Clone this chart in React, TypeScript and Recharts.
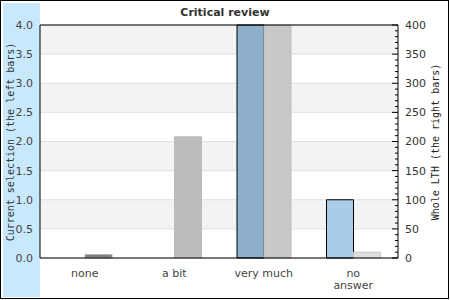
import { BarChart, Bar, XAxis, YAxis, CartesianGrid, Cell, ReferenceLine } from "recharts";

const categories = ["none", "a bit", "very much", "no\nanswer"];
const currentSelection = [0, 0, 4, 1];
const wholeLth = [6, 208, 400, 10];

const leftTicks = [0, 0.5, 1, 1.5, 2, 2.5, 3, 3.5, 4];
const rightMajorTicks = [0, 50, 100, 150, 200, 250, 300, 350, 400];
const rightTicks = Array.from({ length: 41 }, (_, i) => i * 10);

const currentColors = ["#8eb0cc", "#8eb0cc", "#8eb0cc", "#a9cce9"];
const wholeColors = ["#808080", "#bbbbbb", "#c8c8c8", "#dddddd"];
const wholeStrokes = ["#b4b4b4", "#bbbbbb", "#bcbcbc", "#c6c6c6"];

const data = categories.map((name, i) => ({
  name,
  current: currentSelection[i],
  whole: wholeLth[i],
}));

const FONT = "'DejaVu Sans', Verdana, sans-serif";
const MONO = "'DejaVu Sans Mono', monospace";

const CategoryTick = ({ x, y, payload }: any) => {
  const lines = String(payload.value).split("\n");
  return (
    <text x={x} y={y + 19} textAnchor="middle" fontSize={11} fontFamily={FONT} fill="#444">
      {lines.map((l, i) => (
        <tspan key={i} x={x} dy={i === 0 ? 0 : 12}>
          {l}
        </tspan>
      ))}
    </text>
  );
};

const RightTick = ({ x, y, payload }: any) => {
  const major = rightMajorTicks.includes(payload.value);
  return (
    <g>
      <line x1={x - (major ? 6 : 3)} x2={x} y1={y} y2={y} stroke="#000" />
      {major && (
        <text x={x + 7} y={y} dy="0.355em" fontSize={11} fontFamily={FONT} fill="#333">
          {payload.value}
        </text>
      )}
    </g>
  );
};

export default function App() {
  return (
    <div style={{ position: "absolute", left: 0, top: 0, width: 450, height: 300 }}>
      <div
        style={{
          position: "absolute",
          left: 0,
          top: 0,
          width: 449,
          height: 299,
          boxSizing: "border-box",
          border: "1px solid #000",
          background: "#fff",
        }}
      />
      <div style={{ position: "absolute", left: 3, top: 3, width: 37, height: 294, background: "#c8e8fc" }} />
      <div style={{ position: "absolute", left: 0, top: 0 }}>
        <BarChart
          width={450}
          height={300}
          data={data}
          margin={{ top: 25, right: 0, bottom: 0, left: 0 }}
          barGap={0}
          barSize={27}
        >
          <CartesianGrid
            yAxisId="left"
            vertical={false}
            stroke="#e0e0e0"
            horizontalFill={["#f3f3f3", "#ffffff"]}
          />
          <XAxis
            dataKey="name"
            height={42}
            axisLine={{ stroke: "#000" }}
            tickLine={false}
            tickSize={0}
            tickMargin={0}
            interval={0}
            tick={<CategoryTick />}
          />
          <YAxis
            yAxisId="left"
            width={40}
            domain={[0, 4]}
            ticks={leftTicks}
            interval={0}
            tickFormatter={(v: number) => v.toFixed(1)}
            axisLine={{ stroke: "#000" }}
            tickLine={false}
            tickSize={5}
            tickMargin={2}
            tick={{ fontSize: 11, fontFamily: FONT, fill: "#444" }}
          />
          <YAxis
            yAxisId="right"
            orientation="right"
            width={52}
            domain={[0, 400]}
            ticks={rightTicks}
            interval={0}
            axisLine={{ stroke: "#000" }}
            tickLine={false}
            tickSize={0}
            tickMargin={0}
            tick={<RightTick />}
          />
          <Bar yAxisId="left" dataKey="current" stroke="#000" strokeWidth={1} isAnimationActive={false}>
            {data.map((_, i) => (
              <Cell key={i} fill={currentColors[i]} />
            ))}
          </Bar>
          <Bar yAxisId="right" dataKey="whole" strokeWidth={1} isAnimationActive={false}>
            {data.map((_, i) => (
              <Cell key={i} fill={wholeColors[i]} stroke={wholeStrokes[i]} />
            ))}
          </Bar>
          <ReferenceLine yAxisId="left" y={4} stroke="#000" />
        </BarChart>
      </div>
      <svg
        width={450}
        height={300}
        style={{ position: "absolute", left: 0, top: 0, pointerEvents: "none" }}
      >
        <text x={225} y={16} textAnchor="middle" fontSize={11} fontWeight="bold" fontFamily={FONT} fill="#333">
          Critical review
        </text>
        <text
          x={13.5}
          y={142}
          transform="rotate(-90 13.5 142)"
          textAnchor="middle"
          fontSize={10}
          fontFamily={MONO}
          fill="#333"
        >
          Current selection (the left bars)
        </text>
        <text
          x={439}
          y={142}
          transform="rotate(-90 439 142)"
          textAnchor="middle"
          fontSize={10}
          fontFamily={MONO}
          fill="#222"
        >
          Whole LTH (the right bars)
        </text>
      </svg>
    </div>
  );
}
